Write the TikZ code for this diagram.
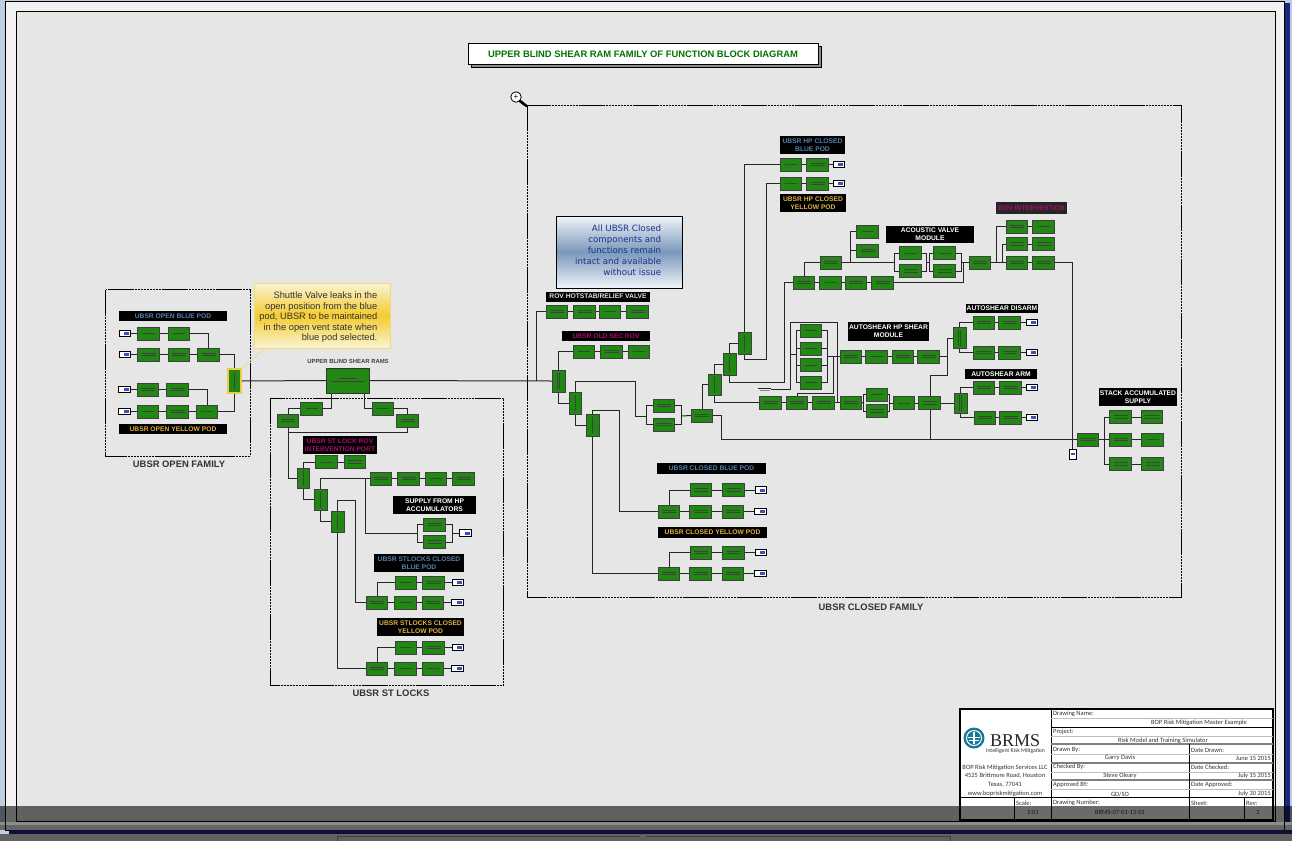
\documentclass[tikz,border=0pt]{standalone}
\usepackage{fontspec}
\setmainfont{Liberation Sans}
\newfontfamily\tbfont{Carlito}
\newfontfamily\notefont{DejaVu Sans}
\newfontfamily\logofont{Liberation Serif}
\definecolor{blkgreen}{RGB}{34,136,20}
\definecolor{sheetgray}{RGB}{230,230,230}
\definecolor{edgegray}{RGB}{241,241,241}
\definecolor{deskblue}{RGB}{190,205,226}
\definecolor{stripeblue}{RGB}{26,38,122}
\definecolor{podblue}{RGB}{84,130,176}
\definecolor{podyellow}{RGB}{226,178,64}
\definecolor{rovmagenta}{RGB}{170,12,110}
\definecolor{tagblue}{RGB}{60,80,190}
\definecolor{noteblue}{RGB}{30,50,140}
\definecolor{noteshade}{RGB}{122,152,188}
\definecolor{notetop}{RGB}{240,244,248}
\definecolor{calloutgold}{RGB}{243,203,46}
\definecolor{callouttop}{RGB}{250,244,212}
\definecolor{halo}{RGB}{236,204,70}
\definecolor{logoteal}{RGB}{26,120,150}
\usetikzlibrary{arrows.meta,positioning,calc,backgrounds}

\begin{document}
\begin{tikzpicture}[x=1pt,y=-1pt,
  blk/.style={rectangle, draw=black!75, line width=.7pt, fill=blkgreen, minimum width=21.5pt, minimum height=13pt, inner sep=0pt, outer sep=0pt,
    path picture={\draw[black!75,line width=.7pt] ([xshift=-7pt,yshift=1.3pt]path picture bounding box.center) -- +(14,0);
      \draw[black!75,line width=.7pt] ([xshift=-7pt,yshift=-1.3pt]path picture bounding box.center) -- +(14,0);}},
  blka/.style={blk, path picture={\draw[black!75,line width=.7pt] ([xshift=-6pt]path picture bounding box.center) -- +(12,0);}},
  vblk/.style={rectangle, draw=black!75, line width=.7pt, fill=blkgreen, minimum width=13pt, minimum height=22pt, inner sep=0pt, outer sep=0pt,
    path picture={\draw[black!75,line width=.7pt] ([yshift=8pt]path picture bounding box.center) -- +(0,16);}},
  vblkb/.style={vblk, path picture={\draw[black!75,line width=.7pt] ([xshift=-1.2pt,yshift=8pt]path picture bounding box.center) -- +(0,16);
      \draw[black!75,line width=.7pt] ([xshift=1.2pt,yshift=8pt]path picture bounding box.center) -- +(0,16);}},
  tagbox/.style={rectangle, draw=black, line width=.8pt, fill=white, minimum width=11.5pt, minimum height=6.5pt, inner sep=0pt, outer sep=0pt,
    path picture={\fill[tagblue] ([xshift=-1pt,yshift=1.5pt]path picture bounding box.center) rectangle +(5,3);}},
  conn/.style={line width=1pt, black!85},
  podbar/.style={rectangle, fill=black, inner sep=0pt, outer sep=0pt, align=center, font=\fontsize{6.7}{8.2}\selectfont\bfseries, text=white},
  famframe/.style={draw=black, line width=.8pt, dash pattern=on 26pt off 1pt on 2pt off 1pt on 2pt off 1pt on 2pt off 1pt on 2pt off 1pt on 2pt off 1pt on 2pt off 1pt on 2pt off 1pt on 2pt off 1pt on 2pt off 1pt},
  famlabel/.style={font=\fontsize{9.4}{11}\selectfont\bfseries, text=black!80},
  tblabel/.style={anchor=west, inner sep=0pt, font=\tbfont\fontsize{6.5}{7}\selectfont, text=black!80},
  tbvalue/.style={inner sep=0pt, font=\tbfont\fontsize{6.5}{7}\selectfont, text=black!80},
  tbline/.style={line width=.3pt, black!25},
  tbsep/.style={line width=1.2pt, black!50},
]
\useasboundingbox (0,0) rectangle (1292,841);

\begin{scope}[on background layer]
\fill[deskblue] (0,0) rectangle (1292,841);
\fill[stripeblue] (1280,3) rectangle (1290,834);
\fill[stripeblue] (9,826) rectangle (1290,834);
\filldraw[fill=edgegray, draw=black, line width=.8pt] (5.5,1) rectangle (1284,830);
\filldraw[fill=sheetgray, draw=black, line width=.8pt] (16.5,11) rectangle (1275,821);
\draw[famframe] (105.5,289.5) rectangle (250,456);
\draw[famframe] (270.5,398) rectangle (503.5,685);
\draw[famframe] (527,105) rectangle (1181,597);
\end{scope}

\node[rectangle, draw=black, fill=black!45, line width=.8pt, minimum width=350pt, minimum height=21pt] (titleshade) at (646.5,57) {};
\node[rectangle, draw=black, fill=white, line width=.8pt, minimum width=350pt, minimum height=21pt, font=\fontsize{9.4}{11}\selectfont\bfseries, text=green!45!black] (title) at (643,54) {UPPER BLIND SHEAR RAM FAMILY OF FUNCTION BLOCK DIAGRAM};

\node[circle, draw=black, fill=white, line width=.8pt, minimum size=10.5pt, inner sep=0pt, font=\fontsize{8}{8}\selectfont] (glass) at (516,97) {+};
\coordinate (glassend) at (526.5,106);
\draw[line width=2.6pt, line cap=round] (glass.south east) -- (glassend);

\node[famlabel] (lopen) at (179,464.5) {UBSR OPEN FAMILY};
\node[famlabel] (llock) at (391,693.5) {UBSR ST LOCKS};
\node[famlabel] (lclosed) at (871,607.5) {UBSR CLOSED FAMILY};

\node[podbar, minimum width=108pt, minimum height=10pt, text=podblue] (topenb) at (173,316) {UBSR OPEN BLUE POD};
\node[podbar, minimum width=108pt, minimum height=10pt, text=podyellow] (topeny) at (173,429) {UBSR OPEN YELLOW POD};
\node[inner sep=0pt, font=\fontsize{5.9}{7}\selectfont\bfseries, text=black!75] (lram) at (348,361) {UPPER BLIND SHEAR RAMS};

\node[blka] (ob11) at (148.5,333.5) {};
\node[blka, right=9pt of ob11] (ob12) {};
\node[tagbox, left=7pt of ob11] (obt1) {};
\node[blk] (ob21) at (148.5,354.5) {};
\node[blk, right=9pt of ob21] (ob22) {};
\node[blk, right=8pt of ob22] (ob23) {};
\node[tagbox, left=7pt of ob21] (obt2) {};
\node[blk] (oy11) at (148,389.5) {};
\node[blk, right=8pt of oy11] (oy12) {};
\node[tagbox, left=7pt of oy11] (oyt1) {};
\node[blka] (oy21) at (148,411.5) {};
\node[blk, right=8pt of oy21] (oy22) {};
\node[blka, right=8pt of oy22] (oy23) {};
\node[tagbox, left=7pt of oy21] (oyt2) {};
\node[vblk, minimum height=24pt, draw=halo, line width=1.8pt] (shuttle) at (234.5,381) {};
\node[rectangle, draw=black!80, line width=.7pt, fill=blkgreen, minimum width=43pt, minimum height=25pt, inner sep=0pt, outer sep=0pt,
  path picture={\draw[black!75,line width=.7pt] ([xshift=-17pt,yshift=-1pt]path picture bounding box.center) -- +(34,0);
    \draw[black!75,line width=.7pt] ([xshift=-9pt,yshift=2pt]path picture bounding box.center) -- +(18,0);}] (ram) at (347.5,380.5) {};

\node[rectangle, draw=halo!70, line width=1pt, top color=callouttop, bottom color=callouttop, middle color=calloutgold, minimum width=136pt, minimum height=65pt, inner sep=0pt] (callout) at (322,315.5) {};
\node[left=13pt of callout.east, yshift=-2pt, align=right, inner sep=0pt, font=\fontsize{9.3}{10.5}\selectfont, text=black!80] (callouttext) {Shuttle Valve leaks in the\\open position from the blue\\pod, UBSR to be maintained\\in the open vent state when\\blue pod selected.};
\coordinate (calloutfoot) at (265,348);
\draw[halo!70, line width=.6pt] (calloutfoot) -- (shuttle.north east);

\node[blka] (sa) at (311.5,408.5) {};
\node[blk] (sb) at (288,420.5) {};
\node[blka] (sc) at (383,408.5) {};
\node[blk] (sd) at (407.5,420.5) {};
\node[podbar, minimum width=74pt, minimum height=18pt, text=rovmagenta] (tstrov) at (340,445) {UBSR ST LOCK ROV\\INTERVENTION PORT};
\node[vblk, minimum width=12pt, minimum height=20pt] (se) at (303,478) {};
\node[vblk, minimum height=21pt] (sf) at (320.5,499.5) {};
\node[vblk, minimum height=21pt] (sg) at (337.5,521.5) {};
\node[blka] (sr1) at (326.5,462) {};
\node[blk, right=7pt of sr1] (sr2) {};
\node[blk] (sh1) at (381,478.5) {};
\node[blk, right=6pt of sh1] (sh2) {};
\node[blka, right=6pt of sh2] (sh3) {};
\node[blk, right=6pt of sh3] (sh4) {};
\node[podbar, minimum width=83pt, minimum height=18pt] (tsup) at (434.5,505) {SUPPLY FROM HP\\ACCUMULATORS};
\node[blk] (sp1) at (434.5,524.5) {};
\node[blk] (sp2) at (434.5,542) {};
\node[tagbox] (spt) at (465.5,533) {};
\node[podbar, minimum width=90pt, minimum height=18pt, text=podblue] (tslb) at (419,563) {UBSR STLOCKS CLOSED\\BLUE POD};
\node[blka] (sb11) at (406,582.5) {};
\node[blk, right=6pt of sb11] (sb12) {};
\node[tagbox, right=8pt of sb12] (sbt1) {};
\node[blk] (sb21) at (377,602.5) {};
\node[blka, right=7pt of sb21] (sb22) {};
\node[blk, right=6pt of sb22] (sb23) {};
\node[tagbox, right=8pt of sb23] (sbt2) {};
\node[podbar, minimum width=87pt, minimum height=18pt, text=podyellow] (tsly) at (420.5,627) {UBSR STLOCKS CLOSED\\YELLOW POD};
\node[blka] (sy11) at (406,647.5) {};
\node[blk, right=6pt of sy11] (sy12) {};
\node[tagbox, right=8pt of sy12] (syt1) {};
\node[blk] (sy21) at (377,668.5) {};
\node[blka, right=7pt of sy21] (sy22) {};
\node[blka, right=6pt of sy22] (sy23) {};
\node[tagbox, right=8pt of sy23] (syt2) {};

\node[rectangle, draw=black, line width=.8pt, top color=notetop, bottom color=notetop, middle color=noteshade, minimum width=126pt, minimum height=72pt, inner sep=0pt] (note) at (619,252) {};
\node[left=21pt of note.east, yshift=2pt, align=right, inner sep=0pt, font=\notefont\fontsize{8.7}{11}\selectfont, text=noteblue] (notetext) {All UBSR Closed\\components and\\functions remain\\intact and available\\without issue};

\node[podbar, minimum width=104pt, minimum height=10pt, text=black!12] (thot) at (598,296.5) {ROV HOTSTAB/RELIEF VALVE};
\node[blk] (hr1) at (557,311.5) {};
\node[blk, right=6pt of hr1] (hr2) {};
\node[blka, right=4pt of hr2] (hr3) {};
\node[blk, right=6pt of hr3] (hr4) {};
\node[podbar, minimum width=88pt, minimum height=10pt, text=rovmagenta] (told) at (606,336) {UBSR OLD SEC ROV};
\node[blka] (os1) at (584,351.5) {};
\node[blk, right=6pt of os1] (os2) {};
\node[blka, right=6pt of os2] (os3) {};
\node[vblkb] (vh) at (558.5,381) {};
\node[vblk, minimum width=12pt] (vi) at (575,403) {};
\node[vblk] (vj) at (592.5,425) {};
\node[blk] (pa) at (664,405.5) {};
\node[blk] (pb) at (664,424.5) {};
\node[blk] (vk) at (702,415.5) {};
\node[vblk, minimum height=21pt] (vl) at (714.5,384.5) {};
\node[vblk] (vm) at (729.5,364) {};
\node[vblk] (vn) at (744.5,343) {};

\node[podbar, minimum width=109pt, minimum height=11pt, text=podblue] (tcb) at (711.5,468.5) {UBSR CLOSED BLUE POD};
\node[blk] (cb11) at (701,490) {};
\node[blk, right=11pt of cb11] (cb12) {};
\node[tagbox, right=11pt of cb12] (cbt1) {};
\node[blk] (cb21) at (669,511.5) {};
\node[blk, right=10pt of cb21] (cb22) {};
\node[blk, right=11pt of cb22] (cb23) {};
\node[tagbox, right=11pt of cb23] (cbt2) {};
\node[podbar, minimum width=109pt, minimum height=11pt, text=podyellow] (tcy) at (712.5,532.5) {UBSR CLOSED YELLOW POD};
\node[blk] (cy11) at (701,552.5) {};
\node[blk, right=11pt of cy11] (cy12) {};
\node[tagbox, right=11pt of cy12] (cyt1) {};
\node[blk] (cy21) at (669,573.5) {};
\node[blk, right=10pt of cy21] (cy22) {};
\node[blk, right=11pt of cy22] (cy23) {};
\node[tagbox, right=11pt of cy23] (cyt2) {};

\node[podbar, minimum width=65pt, minimum height=18pt, text=podblue] (thb) at (812.5,145) {UBSR HP CLOSED\\BLUE POD};
\node[blka] (hp1) at (791,164.5) {};
\node[blk, right=5pt of hp1] (hp2) {};
\node[tagbox, right=5pt of hp2] (hpt) {};
\node[blka] (hq1) at (791,183.5) {};
\node[blk, right=5pt of hq1] (hq2) {};
\node[tagbox, right=5pt of hq2] (hqt) {};
\node[podbar, minimum width=66pt, minimum height=18pt, text=podyellow] (thy) at (813,203) {UBSR HP CLOSED\\YELLOW POD};

\node[blk] (ua1) at (804,282.5) {};
\node[blka, right=5pt of ua1] (ua2) {};
\node[blk, right=4pt of ua2] (ua3) {};
\node[blk, right=5pt of ua3] (ua4) {};
\node[blk] (ub) at (831,262.5) {};
\node[blka] (uc1) at (867.5,231.5) {};
\node[blk] (uc2) at (867.5,250.5) {};
\node[podbar, minimum width=88pt, minimum height=17pt] (tacu) at (930,234.5) {ACOUSTIC VALVE\\MODULE};
\node[blka] (av1) at (910.5,253) {};
\node[blk] (av2) at (910.5,271) {};
\node[blka] (av3) at (944.5,253) {};
\node[blk] (av4) at (944.5,271) {};
\node[blk] (avo) at (980,262.5) {};
\node[podbar, minimum width=71pt, minimum height=12pt, text=rovmagenta, fill=black!85] (trov) at (1031.5,208) {ROV INTERVENTION};
\node[blk] (rv11) at (1017,226.5) {};
\node[blka, right=5pt of rv11] (rv12) {};
\node[blk] (rv21) at (1017,244) {};
\node[blk, right=5pt of rv21] (rv22) {};
\node[blk] (rv31) at (1017,262.5) {};
\node[blk, right=5pt of rv31] (rv32) {};

\node[blka] (hs1) at (811,330.5) {};
\node[blka] (hs2) at (811,348.5) {};
\node[blka] (hs3) at (811,365) {};
\node[blka] (hs4) at (811,382.5) {};
\node[rectangle, minimum width=13pt, minimum height=5pt, inner sep=0pt, outer sep=0pt,
  path picture={\draw[black!85,line width=1pt] ([yshift=1pt]path picture bounding box.west) -- +(13,0);
    \draw[black!45,line width=1pt] ([xshift=1.5pt,yshift=-1.2pt]path picture bounding box.west) -- +(10,0);}] (gnd) at (764.5,389) {};
\node[podbar, minimum width=81pt, minimum height=19pt] (tshear) at (888.5,331.5) {AUTOSHEAR HP SHEAR\\MODULE};
\node[blk] (hv1) at (851,356.5) {};
\node[blka, right=4pt of hv1] (hv2) {};
\node[blk, right=5pt of hv2] (hv3) {};
\node[blk, right=4pt of hv3] (hv4) {};
\node[blk] (lw1) at (770.5,402.5) {};
\node[blk, right=5pt of lw1] (lw2) {};
\node[blk, right=5pt of lw2] (lw3) {};
\node[blk, right=6pt of lw3] (lw4) {};
\node[blka] (lp1) at (877,394.5) {};
\node[blk] (lp2) at (877,411) {};
\node[blka] (lp3) at (904,403) {};
\node[blk, right=4pt of lp3] (lp4) {};
\node[vblkb, minimum height=21pt] (db) at (959.5,338) {};
\node[vblkb, minimum height=20pt] (da) at (960.5,403) {};
\node[podbar, minimum width=72pt, minimum height=9pt] (tdis) at (1002,308.5) {AUTOSHEAR DISARM};
\node[blk] (dd11) at (984,322.5) {};
\node[blk, right=4pt of dd11] (dd12) {};
\node[tagbox, right=6pt of dd12] (ddt1) {};
\node[blk] (dd21) at (984,352.5) {};
\node[blk, right=4pt of dd21] (dd22) {};
\node[tagbox, right=6pt of dd22] (ddt2) {};
\node[podbar, minimum width=72pt, minimum height=10pt] (tarm) at (1001,374) {AUTOSHEAR ARM};
\node[blk] (ar11) at (984,387.5) {};
\node[blk, right=5pt of ar11] (ar12) {};
\node[tagbox, right=5pt of ar12] (art1) {};
\node[blk] (ar21) at (985,417.5) {};
\node[blk, right=4pt of ar21] (ar22) {};
\node[tagbox, right=5pt of ar22] (art2) {};

\node[podbar, minimum width=78pt, minimum height=18pt] (tstk) at (1138,397) {STACK ACCUMULATED\\SUPPLY};
\node[blk] (st0) at (1088,439.5) {};
\node[blk] (st11) at (1120.5,417) {};
\node[blk, right=10pt of st11] (st12) {};
\node[blk] (st21) at (1120.5,439.5) {};
\node[blka, right=10.5pt of st21] (st22) {};
\node[blk] (st31) at (1120.5,464) {};
\node[blk, right=10.5pt of st31] (st32) {};
\node[rectangle, draw=black, line width=.8pt, fill=white, minimum width=7pt, minimum height=10pt, inner sep=0pt, outer sep=0pt,
  path picture={\fill[tagblue] ([xshift=-2pt,yshift=1pt]path picture bounding box.center) rectangle +(4,2);}] (stk) at (1072.5,454) {};

\coordinate (jhot) at (536,381);
\coordinate (jlock) at (288,432);
\coordinate (jsup) at (365,478.5);
\coordinate (supl) at (417,533);
\coordinate (supr) at (452,533);
\coordinate (jgate) at (355,500);
\coordinate (jia) at (635,381);
\coordinate (jib) at (646,416);
\coordinate (jic) at (681,416);
\coordinate (jja) at (619,410);
\coordinate (jk) at (721,439.5);
\coordinate (jn) at (766,359);
\coordinate (jm) at (784,382);
\coordinate (jac) at (850,262.5);
\coordinate (avl) at (894,262.5);
\coordinate (avma) at (926,262.5);
\coordinate (avmb) at (929,262.5);
\coordinate (avr) at (961,262.5);
\coordinate (javo) at (963,262.5);
\coordinate (jra) at (996,262.5);
\coordinate (jrb) at (1002,262.5);
\coordinate (hsl) at (796,354);
\coordinate (hsr) at (827,356.5);
\coordinate (jla) at (790,322);
\coordinate (jlb) at (837,402.5);
\coordinate (hsb) at (833,393);
\coordinate (hso) at (833,356.5);
\coordinate (jlp) at (863,403);
\coordinate (jlq) at (889,403);
\coordinate (jhva) at (947,356.5);
\coordinate (jhvb) at (930,375);
\coordinate (jst) at (1104,439.5);

\begin{scope}[on background layer]
\draw[conn] (obt1) -- (ob11);
\draw[conn] (ob11) -- (ob12);
\draw[conn] (ob12.east) -| (ob23.north);
\draw[conn] (obt2) -- (ob21);
\draw[conn] (ob21) -- (ob22);
\draw[conn] (ob22) -- (ob23);
\draw[conn] (ob23.east) -| (shuttle.north);
\draw[conn] (oyt1) -- (oy11);
\draw[conn] (oy11) -- (oy12);
\draw[conn] (oy12.east) -| (oy23.north);
\draw[conn] (oyt2) -- (oy21);
\draw[conn] (oy21) -- (oy22);
\draw[conn] (oy22) -- (oy23);
\draw[conn] (oy23.east) -| (shuttle.south);
\draw[conn] (shuttle.east) -- (ram.west);
\draw[conn] (ram.east) -- (vh.west);
\draw[conn] (jhot) |- (hr1.west);

\draw[conn] ([xshift=5pt]ram.south west) |- (sa.east);
\draw[conn] ([xshift=-5pt]ram.south east) |- (sc.west);
\draw[conn] (sa.west) -| (sb.north);
\draw[conn] (sc.east) -| (sd.north);
\draw[conn] (sb.south) |- (se.west);
\draw[conn] (sd.south) |- (jlock);
\draw[conn] (se.north) |- (sr1.west);
\draw[conn] (sr1) -- (sr2);
\draw[conn] (se.south) |- (sf.west);
\draw[conn] (sf.south) |- (sg.west);
\draw[conn] (sf.north) |- (sh1.west);
\draw[conn] (sh1) -- (sh2);
\draw[conn] (sh2) -- (sh3);
\draw[conn] (sh3) -- (sh4);
\draw[conn] (jsup) |- (supl);
\draw[conn] (sp1.west) -| (supl);
\draw[conn] (sp2.west) -| (supl);
\draw[conn] (sp1.east) -| (supr);
\draw[conn] (sp2.east) -| (supr);
\draw[conn] (supr) -- (spt.west);
\draw[conn] (sg.north) |- (jgate) |- (sb21.west);
\draw[conn] (sg.south) |- (sy21.west);
\draw[conn] (sb21.north) |- (sb11.west);
\draw[conn] (sb11) -- (sb12);
\draw[conn] (sb12) -- (sbt1);
\draw[conn] (sb21) -- (sb22);
\draw[conn] (sb22) -- (sb23);
\draw[conn] (sb23) -- (sbt2);
\draw[conn] (sy21.north) |- (sy11.west);
\draw[conn] (sy11) -- (sy12);
\draw[conn] (sy12) -- (syt1);
\draw[conn] (sy21) -- (sy22);
\draw[conn] (sy22) -- (sy23);
\draw[conn] (sy23) -- (syt2);

\draw[conn] (hr1) -- (hr2);
\draw[conn] (hr2) -- (hr3);
\draw[conn] (hr3) -- (hr4);
\draw[conn] (os1) -- (os2);
\draw[conn] (os2) -- (os3);
\draw[conn] (vh.north) |- (os1.west);
\draw[conn] (vh.south) |- (vi.west);
\draw[conn] (vi.south) |- (vj.west);
\draw[conn] (vi.north) |- (jia) |- (jib);
\draw[conn] (pa.west) -| (jib);
\draw[conn] (pb.west) -| (jib);
\draw[conn] (pa.east) -| (jic);
\draw[conn] (pb.east) -| (jic);
\draw[conn] (jic) -- (vk.west);
\draw[conn] (vj.north) |- (jja) |- (cb21.west);
\draw[conn] (vj.south) |- (cy21.west);
\draw[conn] (cb21.north) |- (cb11.west);
\draw[conn] (cb11) -- (cb12);
\draw[conn] (cb12) -- (cbt1);
\draw[conn] (cb21) -- (cb22);
\draw[conn] (cb22) -- (cb23);
\draw[conn] (cb23) -- (cbt2);
\draw[conn] (cy21.north) |- (cy11.west);
\draw[conn] (cy11) -- (cy12);
\draw[conn] (cy12) -- (cyt1);
\draw[conn] (cy21) -- (cy22);
\draw[conn] (cy22) -- (cy23);
\draw[conn] (cy23) -- (cyt2);

\draw[conn] (vk.north) |- (vl.west);
\draw[conn] (vl.north) |- (vm.west);
\draw[conn] (vm.north) |- (vn.west);
\draw[conn] (vn.north) |- (hp1.west);
\draw[conn] (vn.south) |- (jn) |- (hq1.west);
\draw[conn] (vm.south) |- (jm) |- (ua1.west);
\draw[conn] (vl.south) |- (lw1.west);
\draw[conn] (vk.east) -| (jk) -- (st0.west);
\draw[conn] (hp1) -- (hp2);
\draw[conn] (hp2) -- (hpt);
\draw[conn] (hq1) -- (hq2);
\draw[conn] (hq2) -- (hqt);

\draw[conn] (ua1) -- (ua2);
\draw[conn] (ua2) -- (ua3);
\draw[conn] (ua3) -- (ua4);
\draw[conn] (ua1.north) |- (ub.west);
\draw[conn] (ub.east) -- (avl);
\draw[conn] (jac) |- (uc1.west);
\draw[conn] (jac |- uc2) -- (uc2.west);
\draw[conn] (av1.west) -| (avl);
\draw[conn] (av2.west) -| (avl);
\draw[conn] (av1.east) -| (avma);
\draw[conn] (av2.east) -| (avma);
\draw[conn] (avma) -- (avmb);
\draw[conn] (av3.west) -| (avmb);
\draw[conn] (av4.west) -| (avmb);
\draw[conn] (av3.east) -| (avr);
\draw[conn] (av4.east) -| (avr);
\draw[conn] (avr) -- (avo.west);
\draw[conn] (ua4.east) -| (javo);
\draw[conn] (avo.east) -- (rv31.west);
\draw[conn] (jra) |- (rv11.west);
\draw[conn] (jrb) |- (rv21.west);
\draw[conn] (rv11) -- (rv12);
\draw[conn] (rv21) -- (rv22);
\draw[conn] (rv31) -- (rv32);
\draw[conn] (rv32.east) -| (stk.north);

\draw[conn] (lw1) -- (lw2);
\draw[conn] (lw2) -- (lw3);
\draw[conn] (lw3) -- (lw4);
\draw[conn] (lw4.east) -- (jlp);
\draw[conn] (lp1.west) -| (jlp);
\draw[conn] (lp2.west) -| (jlp);
\draw[conn] (lp1.east) -| (jlq);
\draw[conn] (lp2.east) -| (jlq);
\draw[conn] (jlq) -- (lp3.west);
\draw[conn] (lp3) -- (lp4);
\draw[conn] (lp4.east) -- (da.west);
\draw[conn] (gnd.east) -| (jla) -| (jlb);
\draw[conn] (lw2.north) |- (hsb) -- (hso);
\draw[conn] (jla |- hsl) -- (hsl);
\draw[conn] (hs1.west) -| (hsl);
\draw[conn] (hs2.west) -| (hsl);
\draw[conn] (hs3.west) -| (hsl);
\draw[conn] (hs4.west) -| (hsl);
\draw[conn] (hs1.east) -| (hsr);
\draw[conn] (hs2.east) -| (hsr);
\draw[conn] (hs3.east) -| (hsr);
\draw[conn] (hs4.east) -| (hsr);
\draw[conn] (hsr) -- (hv1.west);
\draw[conn] (hv1) -- (hv2);
\draw[conn] (hv2) -- (hv3);
\draw[conn] (hv3) -- (hv4);
\draw[conn] (hv4.east) -- (jhva);
\draw[conn] (jhva) |- (db.west);
\draw[conn] (jhva) |- (jhvb);
\draw[conn] (jhvb) -- (jhvb |- jk);
\draw[conn] (db.north) |- (dd11.west);
\draw[conn] (db.south) |- (dd21.west);
\draw[conn] (dd11) -- (dd12);
\draw[conn] (dd12) -- (ddt1);
\draw[conn] (dd21) -- (dd22);
\draw[conn] (dd22) -- (ddt2);
\draw[conn] (da.north) |- (ar11.west);
\draw[conn] (da.south) |- (ar21.west);
\draw[conn] (ar11) -- (ar12);
\draw[conn] (ar12) -- (art1);
\draw[conn] (ar21) -- (ar22);
\draw[conn] (ar22) -- (art2);

\draw[conn] (st0.east) -- (st21.west);
\draw[conn] (jst) |- (st11.west);
\draw[conn] (jst) |- (st31.west);
\draw[conn] (st11) -- (st12);
\draw[conn] (st21) -- (st22);
\draw[conn] (st31) -- (st32);
\end{scope}

\filldraw[fill=white, draw=black, line width=2pt] (959.5,708.5) rectangle (1273,819.5);
\draw[black, line width=.8pt] (1051,708.5) -- (1051,819.5);
\draw[black, line width=.6pt] (1051,727) -- (1273,727);
\draw[tbsep] (1051,744) -- (1273,744);
\draw[tbsep] (1051,763) -- (1273,763);
\draw[tbsep] (1051,780) -- (1273,780);
\draw[black, line width=.8pt] (959.5,797) -- (1273,797);
\draw[black, line width=.8pt] (1189,744) -- (1189,819.5);
\draw[black, line width=.8pt] (1014,797) -- (1014,819.5);
\draw[black, line width=.8pt] (1244,797) -- (1244,819.5);
\draw[tbline] (1051,718) -- (1273,718);
\draw[tbline] (1051,736) -- (1273,736);
\draw[tbline] (1051,754) -- (1273,754);
\draw[tbline] (1051,772) -- (1273,772);
\draw[tbline] (1051,789) -- (1273,789);

\node[circle, fill=logoteal, minimum size=21pt, inner sep=0pt] (logo) at (974,738) {};
\draw[white, line width=1pt] (logo) circle (7.5);
\draw[white, line width=1pt] ([xshift=-5pt,yshift=-2pt]logo.center) -- +(10,0);
\draw[white, line width=1pt] ([xshift=-6pt,yshift=1pt]logo.center) -- +(12,0);
\draw[white, line width=1.4pt] ([yshift=6pt]logo.center) -- +(0,12);
\node[inner sep=0pt, font=\logofont\fontsize{18}{18}\selectfont, text=black!85] (brms) at (1015,740.5) {BRMS};
\node[tbvalue, font=\tbfont\fontsize{5.7}{7}\selectfont] (brmstag) at (1015.5,751) {Intelligent Risk Mitigation};
\node[tbvalue] (adda) at (1005,768) {BOP Risk Mitigation Services LLC};
\node[tbvalue] (addb) at (1005,776) {4525 Brittmore Road, Houston};
\node[tbvalue] (addc) at (1005,785) {Texas, 77041};
\node[tbvalue] (addd) at (1005,793.5) {www.bopriskmitigation.com};

\node[tblabel] (tbname) at (1053,714) {Drawing Name:};
\node[tbvalue] (tbnamev) at (1199,723) {BOP Risk Mitigation Master Example};
\node[tblabel] (tbproj) at (1053,732) {Project:};
\node[tbvalue] (tbprojv) at (1163,741) {Risk Model and Training Simulator};
\node[tblabel] (tbdraw) at (1053,750) {Drawn By:};
\node[tbvalue] (tbdrawv) at (1120,758) {Garry Davis};
\node[tblabel] (tbdd) at (1191,750) {Date Drawn:};
\node[tbvalue, anchor=east] (tbddv) at (1271,758) {June 15 2015};
\node[tblabel] (tbchk) at (1053,767) {Checked By:};
\node[tbvalue] (tbchkv) at (1120,776) {Steve Oleary};
\node[tblabel] (tbdc) at (1191,767) {Date Checked:};
\node[tbvalue, anchor=east] (tbdcv) at (1271,776) {July 15 2015};
\node[tblabel] (tbapp) at (1053,785) {Approved BY:};
\node[tbvalue] (tbappv) at (1120,794) {GD/SO};
\node[tblabel] (tbda) at (1191,785) {Date Approved:};
\node[tbvalue, anchor=east] (tbdav) at (1271,794) {July 30 2015};
\node[tblabel] (tbscale) at (1016,803) {Scale:};
\node[tbvalue] (tbscalev) at (1033,812) {1:01};
\node[tblabel] (tbnum) at (1053,803) {Drawing Number:};
\node[tbvalue] (tbnumv) at (1120,812) {BRMS-07-01-15-01};
\node[tblabel] (tbsheet) at (1191,803) {Sheet:};
\node[tblabel] (tbrev) at (1246,803) {Rev:};
\node[tbvalue] (tbrevv) at (1258,812) {2};

\fill[black, opacity=.58] (0,806) rectangle (1292,822);
\fill[black!45!white] (0,822) rectangle (1292,825);
\fill[black!60] (0,825) rectangle (1292,830);
\draw[black, line width=.8pt] (5.5,822) -- (5.5,830) -- (1284,830) -- (1284,822);
\fill[stripeblue!45!black] (9,830.4) rectangle (1292,834);
\fill[black!62] (0,834) rectangle (1292,841);
\draw[black!75, line width=.6pt] (337,841) -- (337,836) -- (950,836) -- (950,841);
\node[inner sep=0pt, font=\fontsize{6}{6}\selectfont, text=white] (tabdots) at (643,837.5) {...};
\end{tikzpicture}
\end{document}
